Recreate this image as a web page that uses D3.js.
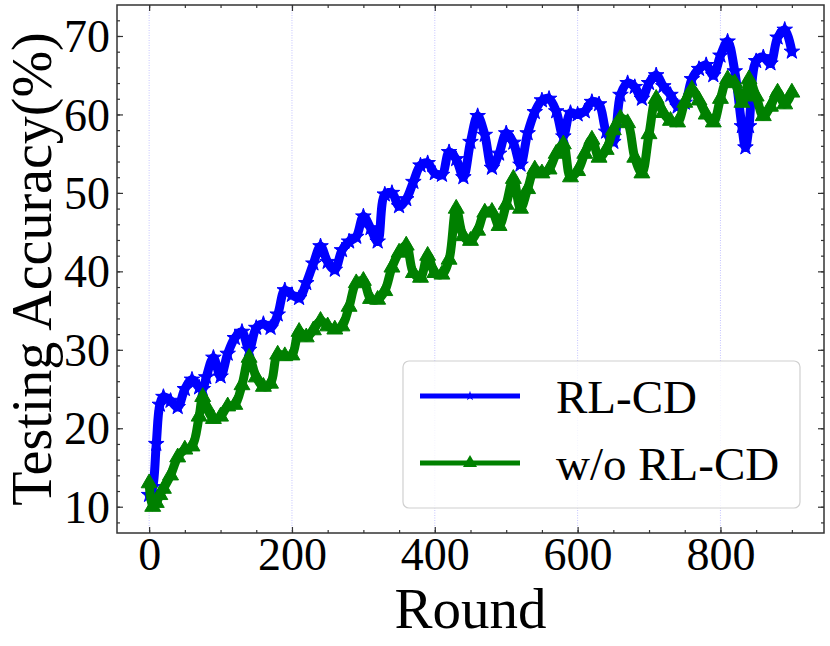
<!DOCTYPE html>
<html>
<head>
<meta charset="utf-8">
<script src="https://cdn.jsdelivr.net/npm/d3@7"></script>
<style>
    html, body { margin: 0; padding: 0; background: #fff; }
    svg { display: block; font-family: "Liberation Serif", "DejaVu Serif", serif; }
</style>
</head>
<body>
<div id="chart"></div>
<script>
const rounds = [
    0, 5, 10, 15, 20, 30, 40, 50, 60, 70,
    75, 80, 90, 100, 110, 120, 130, 140, 150, 160,
    170, 180, 190, 200, 210, 220, 230, 240, 250, 260,
    270, 280, 290, 300, 310, 320, 330, 340, 350, 360,
    370, 380, 390, 400, 410, 420, 430, 440, 450, 460,
    470, 480, 490, 500, 510, 520, 530, 540, 550, 560,
    570, 580, 590, 600, 610, 620, 630, 640, 650, 660,
    670, 680, 690, 700, 710, 720, 730, 740, 750, 760,
    770, 780, 790, 800, 810, 820, 830, 835, 840, 850,
    860, 870, 880, 890, 900,
];

const rlcd = [
    11.5, 12.5, 18, 23, 24, 23.5, 22.7, 25, 26.2, 25.2,
    25.0, 26.5, 29, 26.6, 29.5, 31.5, 32.3, 30, 32.8, 33.3,
    32.8, 34.5, 37.6, 37, 36.6, 38.5, 41, 43.2, 41.2, 40.2,
    42.7, 43.8, 44.4, 47, 45.5, 43.8, 49.8, 50, 48.3, 49.2,
    51.4, 53.5, 53.8, 52.5, 52.3, 55.2, 54.3, 52, 56.5, 59.8,
    57.4, 53.2, 55, 57.6, 56.4, 53.6, 57.6, 60.3, 61.8, 62,
    60.4, 57.2, 60.2, 60, 60.4, 61.6, 61.3, 57.8, 56.5, 62.5,
    64, 63.5, 62, 64, 65, 63.6, 62.5, 61, 61.5, 64.5,
    65.8, 66.3, 65, 67.5, 69.3, 65.5, 58.5, 55.8, 58.5, 66.8,
    67.3, 66.5, 69.8, 70.8, 68,
];

const woRlcd = [
    13, 10, 10.5, 11.5, 12.3, 14, 16.3, 17.3, 17.7, 21.5,
    24, 22.8, 21.2, 21.5, 22.8, 23, 25.5, 29, 26.5, 25.3,
    25.7, 29.4, 29.2, 29.3, 32.3, 31.6, 32.5, 33.7, 33, 32.6,
    33, 35.5, 38.5, 38.8, 36.5, 36.4, 37.5, 40.5, 42.4, 43.3,
    39.8, 39.2, 42, 39.8, 39.6, 41.5, 48, 44.5, 43.9, 45.2,
    47.5, 47.6, 45.8, 48.5, 51.8, 48, 50.5, 53, 52.5, 53,
    55, 56.2, 52, 52.8, 55, 56.8, 54.5, 55.5, 58, 59.5,
    58.9, 54.5, 52.5, 57.5, 62, 60.2, 59.2, 59, 61.5, 63.2,
    61.8, 60, 59, 62, 64.5, 64, 61.5, 62.5, 64.5, 62.3,
    59.8, 61, 62.8, 61.3, 62.8,
];

const xTicks = [0, 200, 400, 600, 800];
const yTicks = [10, 20, 30, 40, 50, 60, 70];
const seriesNames = ['RL-CD', 'w/o RL-CD'];

const W = 830, H = 646;
const margin = { top: 5, right: 6, bottom: 113, left: 117 };
const width = W - margin.left - margin.right;
const height = H - margin.top - margin.bottom;

const svg = d3.select('#chart').append('svg')
    .attr('width', W)
    .attr('height', H);

const main = svg.append('g')
    .attr('transform', `translate(${[margin.left, margin.top]})`);

// scales (matplotlib style 5% padding)
const x = d3.scaleLinear().domain([-45, 945]).range([0, width]);
const y = d3.scaleLinear().domain([6.65, 73.95]).range([height, 0]);

// vertical grid
main.append('g')
    .selectAll('line')
    .data(xTicks)
    .join('line')
    .attr('x1', d => x(d)).attr('x2', d => x(d))
    .attr('y1', 0).attr('y2', height)
    .attr('stroke', '#9d9dff')
    .attr('stroke-opacity', 0.6)
    .attr('stroke-width', 1)
    .attr('stroke-dasharray', '1,1.5');

const series = [
    { name: seriesNames[0], values: rlcd, color: '#0000ff', symbol: d3.symbolStar, size: 75 },
    { name: seriesNames[1], values: woRlcd, color: '#008000', symbol: d3.symbolTriangle, size: 110 },
];

const line = d3.line()
    .x((d, i) => x(rounds[i]))
    .y(d => y(d))
    .curve(d3.curveCatmullRom.alpha(0.5));

const plot = main.append('g');

series.forEach(s => {
    const g = plot.append('g');
    g.append('path')
        .attr('d', line(s.values))
        .attr('fill', 'none')
        .attr('stroke', s.color)
        .attr('stroke-width', 9)
        .attr('stroke-linejoin', 'round')
        .attr('stroke-linecap', 'round');
    const sym = d3.symbol(s.symbol, s.size)();
    g.selectAll('path.mark')
        .data(s.values)
        .join('path')
        .attr('class', 'mark')
        .attr('d', sym)
        .attr('transform', (d, i) => `translate(${x(rounds[i])},${y(d)})`)
        .attr('fill', s.color)
        .attr('stroke', s.color)
        .attr('stroke-width', 1);
});

// axes: ticks pointing inward, on all four sides
const fontSize = 46;
const spine = '#333';

function addAxis(axis, transform) {
    const g = main.append('g').attr('transform', transform).call(axis);
    g.select('.domain').remove();
    g.selectAll('line').attr('stroke', spine).attr('stroke-width', 1.2);
    return g;
}

const xMinor = d3.range(0, 901, 50);
const yMinor = d3.range(8, 73, 2);

const bottom = addAxis(d3.axisBottom(x).tickValues(xTicks).tickSize(-6).tickPadding(0), `translate(0,${height})`);
bottom.selectAll('text')
    .attr('y', 37)
    .attr('dy', 0)
    .style('font-size', `${fontSize}px`)
    .style('font-family', '"Liberation Serif", serif')
    .attr('fill', '#000');
addAxis(d3.axisBottom(x).tickValues(xMinor).tickSize(-3).tickFormat(''), `translate(0,${height})`);
addAxis(d3.axisTop(x).tickValues(xTicks).tickSize(-6).tickFormat(''), 'translate(0,0)');
addAxis(d3.axisTop(x).tickValues(xMinor).tickSize(-3).tickFormat(''), 'translate(0,0)');

const left = addAxis(d3.axisLeft(y).tickValues(yTicks).tickSize(-6).tickPadding(0), 'translate(0,0)');
left.selectAll('text')
    .attr('x', -7)
    .attr('dy', '0.34em')
    .style('font-size', `${fontSize}px`)
    .style('font-family', '"Liberation Serif", serif')
    .attr('fill', '#000');
addAxis(d3.axisLeft(y).tickValues(yMinor).tickSize(-3).tickFormat(''), 'translate(0,0)');
addAxis(d3.axisRight(y).tickValues(yTicks).tickSize(-6).tickFormat(''), `translate(${width},0)`);
addAxis(d3.axisRight(y).tickValues(yMinor).tickSize(-3).tickFormat(''), `translate(${width},0)`);

main.append('rect')
    .attr('width', width)
    .attr('height', height)
    .attr('fill', 'none')
    .attr('stroke', spine)
    .attr('stroke-width', 1.5);

// axis labels
svg.append('text')
    .attr('x', margin.left + width / 2)
    .attr('y', 628)
    .attr('text-anchor', 'middle')
    .style('font-size', '57px')
    .text('Round');

svg.append('text')
    .attr('transform', `translate(51,${margin.top + height / 2}) rotate(-90)`)
    .attr('text-anchor', 'middle')
    .style('font-size', '56px')
    .text('Testing Accuracy(%)');

// legend
const legend = svg.append('g');
legend.append('rect')
    .attr('x', 403).attr('y', 361)
    .attr('width', 397).attr('height', 147)
    .attr('rx', 6)
    .attr('fill', '#fff').attr('fill-opacity', 0.8)
    .attr('stroke', '#d0d0d0').attr('stroke-width', 1.2);

series.forEach((s, i) => {
    const ly = 396 + i * 67;
    const g = legend.append('g');
    g.append('line')
        .attr('x1', 420).attr('x2', 520)
        .attr('y1', ly).attr('y2', ly)
        .attr('stroke', s.color)
        .attr('stroke-width', 5);
    g.append('path')
        .attr('d', d3.symbol(s.symbol, i === 0 ? 30 : 85)())
        .attr('transform', `translate(470,${ly})`)
        .attr('fill', s.color);
    g.append('text')
        .attr('x', 556)
        .attr('y', ly + 17)
        .style('font-size', '47px')
        .text(s.name);
});
</script>
</body>
</html>
